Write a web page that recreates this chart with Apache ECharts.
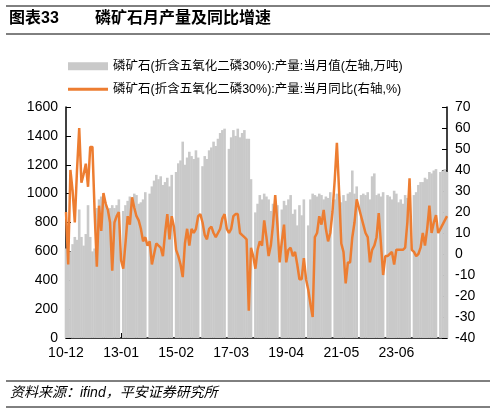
<!DOCTYPE html>
<html>
<head>
<meta charset="utf-8">
<script src="https://cdn.jsdelivr.net/npm/echarts@6/dist/echarts.min.js"></script>
<style>
  html, body { margin: 0; padding: 0; background: #fff; }
  #chart { width: 495px; height: 412px; }
</style>
</head>
<body>
<div id="chart"></div>
<script>
// 月度产量（万吨），每年1月无数据
const output = [
  620,
  560, 600, 650, 700, 680, 890, 700, 640, 720, 920, 700, 600,
  620, 900, 960, 980, 920, 940, 880, 900, 920, 900, 920, 960,
  null, 880, 920, 950, 980, 960, 1000, 990, 930, 940, 960, 1010,
  null, 1000, 1050, 1090, 1130, 1100, 1120, 1060, 1080, 1110, 1050, 1130,
  null, 1150, 1210, 1230, 1360, 1200, 1250, 1290, 1260, 1240, 1300, 1250,
  null, 1190, 1260, 1240, 1300, 1320, 1360, 1330, 1380, 1420, 1440, 1450,
  null, 1310, 1390, 1440, 1400, 1450, 1390, 1420, 1440, 1380, 1380, 1100,
  null, 870, 930, 990, 960, 1000, 980, 960, 880, 930, 930, 920,
  null, 890, 950, 920, 960, 990, 860, 890, 780, 920, 850, 960,
  null, 780, 960, 1000, 990, 980, 1000, 990, 960, 980, 970, 1010,
  null, 960, 1000, 980, 940, 990, 950, 1000, 1010, 1160, 1000, 1050,
  null, 990, 1000, 990, 1010, 960, 1120, 1140, 990, 1000, 980, 1010,
  null, 990, 980, 960, 1020, 1000, 940, 960, 930, 990, 970, 1000,
  null, 990, 1010, 1060, 1080, 1080, 1110, 1100, 1150, 1140, 1160, 1170,
  null, 1150, 1160, 1170, 1150
]

// 同比增速（%）
const yoy = [
  20,
  -5, 40, 30, 15, 40, 60, 34, 38, 43, 32, 51, 51,
  20, -6, 23, 11, 29, 24, 21, 15, -8, 15, 18, 20,
  -3, -7, 5, 18, 14, 27, 22, 18, 16, 12, 6, 8,
  4, 6, -5, 0, 5, 4, 3, -1, 10, 19, 7, 18,
  13, 2, -1, -5, -11, 5, 12, 4, 12, 10, 12, 18,
  19, 15, 9, 7, 12, 13, 10, 8, 10, 12, 17, 19,
  12, 10, 12, 18, 19, 19, 10, 9, 8, 7, -27, 3,
  -1, -7, 2, 6, 4, 16, 8, -1, 4, 14, 28, 14,
  -4, 6, 14, -4, 2, 3, -1, 1, -5, -12, -12, -2,
  -12, -17, -24, -30, 8, 10, 18, 14, 21, 12, 6, 10,
  20, 35, 53, 30, 5, 1, -14, -4, -4, 8, 15, 26,
  22, 18, 14, 10, 8, -4, 2, 4, 8, 19.5, 5, -10,
  -1, -1, 0, 1, -5, 2, 2, 2, 2, 3, 15, 36,
  2, 1, -1, 0, 3, 10, 4, 12, 23, 10, 15, 18.5,
  10, 12, 14, 16, 18
]

// 月份标签 YY-MM，从2010-12开始
const months = []
for (let i = 0; i < output.length; i++) {
  const m = 11 + i
  const y = 10 + Math.floor(m / 12)
  const mm = (m % 12) + 1
  months.push(String(y).padStart(2, '0') + '-' + String(mm).padStart(2, '0'))
}

const barName = '磷矿石(折含五氧化二磷30%):产量:当月值(左轴,万吨)'
const lineName = '磷矿石(折含五氧化二磷30%):产量:当月同比(右轴,%)'

const chart = echarts.init(document.getElementById('chart'))
const font = 'Liberation Sans, Noto Sans CJK SC, sans-serif'
const legendText = { fontSize: 12.5, color: '#000', fontFamily: font }

chart.setOption({
  animation: false,
  textStyle: { fontFamily: font },
  graphic: [
    { type: 'line', shape: { x1: 6, y1: 6, x2: 490, y2: 6 }, style: { stroke: '#000', lineWidth: 1 } },
    { type: 'line', shape: { x1: 6, y1: 34, x2: 490, y2: 34 }, style: { stroke: '#000', lineWidth: 1 } },
    { type: 'text', left: 9, top: 11, style: { text: '图表33', font: 'bold 16px ' + font, fill: '#000' } },
    { type: 'text', left: 95, top: 11, style: { text: '磷矿石月产量及同比增速', font: 'bold 16px ' + font, fill: '#000' } },
    { type: 'line', shape: { x1: 6, y1: 381, x2: 490, y2: 381 }, style: { stroke: '#000', lineWidth: 1 } },
    { type: 'line', shape: { x1: 6, y1: 407, x2: 490, y2: 407 }, style: { stroke: '#000', lineWidth: 1 } },
    { type: 'text', left: 10, top: 386, style: { text: '资料来源：ifind，平安证券研究所', font: 'italic 14px ' + font, fill: '#000' } },
  ],
  legend: [
    {
      left: 63, top: 55, itemWidth: 40, itemHeight: 8,
      textStyle: legendText,
      data: [{ name: barName, icon: 'rect' }],
    },
    {
      left: 63, top: 78, itemWidth: 40, itemHeight: 3,
      textStyle: legendText,
      data: [{ name: lineName, icon: 'rect' }],
    },
  ],
  grid: { left: 66, right: 48, top: 107, bottom: 74 },
  xAxis: {
    type: 'category',
    data: months,
    boundaryGap: false,
    axisLine: { lineStyle: { color: '#000', width: 1.5 } },
    axisTick: { inside: true, interval: 24, lineStyle: { color: '#000' } },
    axisLabel: { interval: 24, color: '#000', fontSize: 14, margin: 8 },
  },
  yAxis: [
    {
      type: 'value', min: 0, max: 1600, interval: 200,
      splitLine: { show: false },
      axisLine: { show: true, lineStyle: { color: '#000', width: 1.5 } },
      axisTick: { show: true, inside: true, lineStyle: { color: '#000' } },
      axisLabel: { color: '#000', fontSize: 14, formatter: (v) => String(v) },
    },
    {
      type: 'value', min: -40, max: 70, interval: 10,
      splitLine: { show: false },
      axisLine: { show: true, lineStyle: { color: '#000', width: 1.5 } },
      axisTick: { show: true, inside: true, lineStyle: { color: '#000' } },
      axisLabel: { color: '#000', fontSize: 14 },
    },
  ],
  series: [
    {
      name: barName,
      type: 'bar',
      data: output,
      barWidth: 2.6,
      itemStyle: { color: '#c9c9c9' },
    },
    {
      name: lineName,
      type: 'line',
      yAxisIndex: 1,
      data: yoy,
      symbol: 'none',
      connectNulls: true,
      lineStyle: { color: '#ed7d31', width: 2.5 },
      itemStyle: { color: '#ed7d31' },
    },
  ],
})
</script>
</body>
</html>
